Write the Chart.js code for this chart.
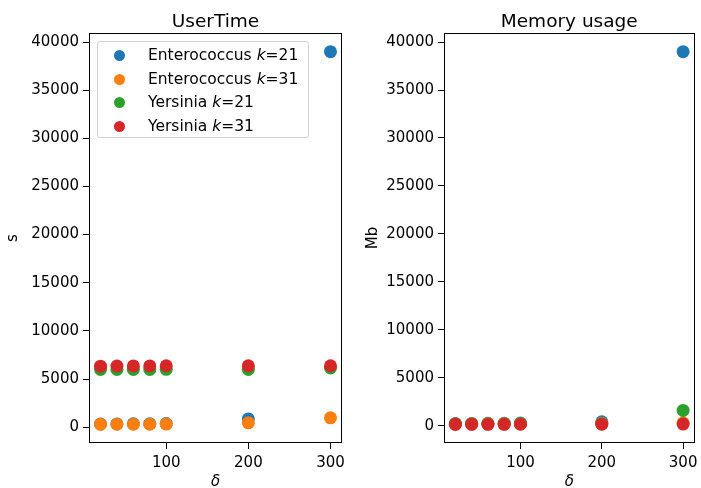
<!DOCTYPE html>
<html>
<head>
<meta charset="utf-8">
<script src="https://cdn.jsdelivr.net/npm/chart.js@4/dist/chart.umd.min.js"></script>
<style>
  html, body { margin: 0; padding: 0; background: #fff; }
  body { width: 701px; height: 488px; position: relative; overflow: hidden; font-family: 'DejaVu Sans', sans-serif; }
  .panel { position: absolute; top: 0; height: 488px; }
  #leftPanel { left: 0; width: 350px; }
  #rightPanel { left: 350px; width: 351px; }
  .legend {
    position: absolute; left: 97px; top: 41px; width: 212px; height: 97px;
    border: 1px solid #d0d0d0; border-radius: 3px; background: rgba(255,255,255,0.8);
    box-sizing: border-box; font-size: 15.5px; color: #000;
  }
  .legend .row { position: absolute; left: 0; height: 20px; line-height: 20px; white-space: nowrap; }
  .legend .dot { position: absolute; left: 16px; top: 5px; width: 11px; height: 11px; border-radius: 50%; }
  .legend .txt { position: absolute; left: 50px; top: 0; }
</style>
</head>
<body>
<div class="panel" id="leftPanel"><canvas id="timeChart"></canvas></div>
<div class="panel" id="rightPanel"><canvas id="memChart"></canvas></div>
<div class="legend" id="legend"></div>
<script>
// Données
const deltas = [20, 40, 60, 80, 100, 200, 300];
const seriesNames = ['Enterococcus', 'Enterococcus', 'Yersinia', 'Yersinia'];
const seriesK = [21, 31, 21, 31];
const seriesColors = ['#1f77b4', '#ff7f0e', '#2ca02c', '#d62728'];

// UserTime (s)
const entero21Time = [330, 340, 350, 360, 370, 860, 39000];
const entero31Time = [290, 300, 300, 310, 320, 450, 970];
const yersinia21Time = [5990, 5990, 6000, 6000, 6010, 6000, 6150];
const yersinia31Time = [6330, 6350, 6360, 6360, 6380, 6370, 6380];

// Memory usage (Mb)
const entero21Mem = [240, 250, 260, 270, 280, 420, 39000];
const entero31Mem = [200, 210, 215, 220, 225, 260, 310];
const yersinia21Mem = [190, 195, 200, 200, 205, 210, 1600];
const yersinia31Mem = [150, 150, 155, 155, 160, 170, 180];

const xTicks = [100, 200, 300];
const yTicks = [0, 5000, 10000, 15000, 20000, 25000, 30000, 35000, 40000];

const FONT = 'DejaVu Sans';

// cadre complet + titre centré sur la zone de tracé
const framePlugin = {
    id: 'frame',
    afterDraw(chart, args, opts) {
        const a = chart.chartArea;
        const ctx = chart.ctx;
        ctx.save();
        ctx.strokeStyle = '#000';
        ctx.lineWidth = 1;
        ctx.strokeRect(Math.round(a.left) + 0.5, Math.round(a.top) + 0.5,
            Math.round(a.right - a.left) - 1, Math.round(a.bottom - a.top) - 1);
        ctx.fillStyle = '#000';
        ctx.font = '18.5px "' + FONT + '"';
        ctx.textAlign = 'center';
        ctx.textBaseline = 'alphabetic';
        ctx.fillText(opts.text, (a.left + a.right) / 2, 27);
        ctx.restore();
    }
};

function makeChart(canvasId, title, yLabel, series, yMin, yMax, yWidth, yTitlePad, rightPad) {
    new Chart(document.getElementById(canvasId), {
        type: 'scatter',
        data: {
            datasets: series.map((vals, i) => ({
                label: seriesNames[i] + ' k=' + seriesK[i],
                data: deltas.map((d, j) => ({ x: d, y: vals[j] })),
                backgroundColor: seriesColors[i],
                borderWidth: 0,
                pointRadius: 6.5,
                pointHoverRadius: 6.5,
                order: series.length - 1 - i
            }))
        },
        options: {
            responsive: true,
            maintainAspectRatio: false,
            animation: false,
            layout: { padding: { left: 0, right: rightPad, top: 33, bottom: 0 } },
            plugins: {
                legend: { display: false },
                tooltip: { enabled: false },
                frame: { text: title }
            },
            scales: {
                x: {
                    type: 'linear',
                    min: 6,
                    max: 314,
                    afterBuildTicks: s => { s.ticks = xTicks.map(v => ({ value: v })); },
                    afterFit: s => { s.height = 45; s.paddingLeft = 0; s.paddingRight = 0; },
                    grid: { drawOnChartArea: false, drawTicks: true, tickLength: 6, color: '#000' },
                    border: { display: false },
                    ticks: { color: '#000', font: { family: FONT, size: 15 }, padding: 5, maxRotation: 0,
                        callback: v => String(v) },
                    title: { display: true, text: 'δ', color: '#000', font: { family: FONT, size: 15, style: 'italic' }, padding: { top: 0, bottom: -3 } }
                },
                y: {
                    type: 'linear',
                    min: yMin,
                    max: yMax,
                    afterBuildTicks: s => { s.ticks = yTicks.map(v => ({ value: v })); },
                    afterFit: s => { s.width = yWidth; s.paddingTop = 0; s.paddingBottom = 0; },
                    grid: { drawOnChartArea: false, drawTicks: true, tickLength: 6, color: '#000' },
                    border: { display: false },
                    ticks: { color: '#000', font: { family: FONT, size: 15 }, padding: 4,
                        callback: v => String(v) },
                    title: { display: true, text: yLabel, color: '#000', font: { family: FONT, size: 15 }, padding: { top: yTitlePad, bottom: 0 } }
                }
            }
        },
        plugins: [framePlugin]
    });
}

makeChart('timeChart', 'UserTime', 's',
    [entero21Time, entero31Time, yersinia21Time, yersinia31Time], -1645, 40935, 89, 4, 8);
makeChart('memChart', 'Memory usage', 'Mb',
    [entero21Mem, entero31Mem, yersinia21Mem, yersinia31Mem], -1792, 40942, 94, 14, 3);

// Légende (dans le graphique de gauche)
const legendEl = document.getElementById('legend');
seriesNames.forEach((name, i) => {
    const row = document.createElement('div');
    row.className = 'row';
    row.style.top = (3 + i * 23.5) + 'px';
    row.style.width = '100%';
    row.innerHTML = '<span class="dot" style="background:' + seriesColors[i] + '"></span>' +
        '<span class="txt">' + name + ' <i>k</i>=' + seriesK[i] + '</span>';
    legendEl.appendChild(row);
});
</script>
</body>
</html>
